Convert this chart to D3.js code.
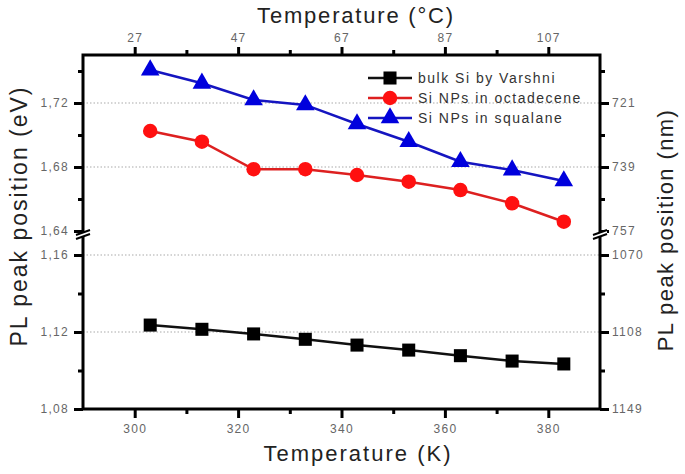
<!DOCTYPE html>
<html>
<head>
<meta charset="utf-8">
<script src="https://cdn.jsdelivr.net/npm/d3@7"></script>
<style>
  body { margin: 0; background: #fff; }
  text { font-family: Arial, "Liberation Sans", sans-serif; }
</style>
</head>
<body>
<svg width="685" height="474"></svg>
<script>
const temps = [303, 313, 323, 333, 343, 353, 363, 373, 383]
const bulkSi = [1.1236, 1.1214, 1.119, 1.1162, 1.1132, 1.1106, 1.1077, 1.1049, 1.1034]
const octadecene = [1.7025, 1.6958, 1.6786, 1.6786, 1.675, 1.6708, 1.6656, 1.6573, 1.6458]
const squalane = [1.7406, 1.7323, 1.7219, 1.7188, 1.7069, 1.6958, 1.6833, 1.6781, 1.6713]

const xTicks = [300, 320, 340, 360, 380]
const xMinor = [310, 330, 350, 370]
const cTicks = [27, 47, 67, 87, 107]
const cMinor = [37, 57, 77, 97]
const upTicks = [1.64, 1.68, 1.72]
const upMinor = [1.66, 1.70, 1.74]
const lowTicks = [1.08, 1.12, 1.16]
const lowMinor = [1.10, 1.14]
const nmUp = ['757', '739', '721']
const nmLow = ['1149', '1108', '1070']
const seriesNames = ['bulk Si by Varshni', 'Si NPs in octadecene', 'Si NPs in squalane']

const m = { left: 83, right: 600, top: 55, bottom: 409 }
const svg = d3.select('svg')

const x = d3.scaleLinear().domain([290, 390]).range([m.left, m.right])
const xC = d3.scaleLinear().domain([290 - 273, 390 - 273]).range([m.left, m.right])
const yUp = d3.scaleLinear().domain([1.64, 1.75]).range([231, m.top])
const yLow = d3.scaleLinear().domain([1.08, 1.16]).range([m.bottom, 255])

const comma = d => d3.format('.2f')(d).replace('.', ',')

/** grid lines */
const grid = svg.append('g')
;[[yUp, [1.68, 1.72]], [yLow, [1.12, 1.16]]].forEach(([s, vals]) => {
  vals.forEach(v => {
    grid.append('line')
      .attr('x1', m.left).attr('x2', m.right)
      .attr('y1', s(v)).attr('y2', s(v))
      .attr('stroke', '#aaa').attr('stroke-width', 1.2)
      .attr('stroke-dasharray', '1.5,2')
  })
})

/** axes */
const styleAxis = (g, labels) => {
  g.select('.domain').remove()
  g.selectAll('.tick line').attr('stroke', '#000').attr('stroke-width', 3)
  g.selectAll('.tick text')
    .attr('fill', '#666')
    .style('font-size', '12px')
    .style('letter-spacing', '1.3px')
  if (!labels) g.selectAll('.tick text').remove()
}

const addAxis = (gen, tx, ty, labels) => {
  svg.append('g').attr('transform', `translate(${tx},${ty})`).call(gen).call(g => styleAxis(g, labels))
}

addAxis(d3.axisBottom(x).tickValues(xTicks).tickSize(9).tickPadding(6), 0, m.bottom, true)
addAxis(d3.axisBottom(x).tickValues(xMinor).tickSize(5).tickFormat(''), 0, m.bottom, false)
addAxis(d3.axisTop(xC).tickValues(cTicks).tickSize(8).tickPadding(5), 0, m.top, true)
addAxis(d3.axisTop(xC).tickValues(cMinor).tickSize(5).tickFormat(''), 0, m.top, false)

addAxis(d3.axisLeft(yUp).tickValues(upTicks).tickSize(9).tickPadding(5).tickFormat(comma), m.left, 0, true)
addAxis(d3.axisLeft(yUp).tickValues(upMinor).tickSize(5).tickFormat(''), m.left, 0, false)
addAxis(d3.axisLeft(yLow).tickValues(lowTicks).tickSize(9).tickPadding(5).tickFormat(comma), m.left, 0, true)
addAxis(d3.axisLeft(yLow).tickValues(lowMinor).tickSize(5).tickFormat(''), m.left, 0, false)

addAxis(d3.axisRight(yUp).tickValues(upTicks).tickSize(9).tickPadding(3).tickFormat((d, i) => nmUp[i]), m.right, 0, true)
addAxis(d3.axisRight(yUp).tickValues(upMinor).tickSize(5).tickFormat(''), m.right, 0, false)
addAxis(d3.axisRight(yLow).tickValues(lowTicks).tickSize(9).tickPadding(3).tickFormat((d, i) => nmLow[i]), m.right, 0, true)
addAxis(d3.axisRight(yLow).tickValues(lowMinor).tickSize(5).tickFormat(''), m.right, 0, false)

/** frame */
svg.append('rect')
  .attr('x', m.left).attr('y', m.top)
  .attr('width', m.right - m.left).attr('height', m.bottom - m.top)
  .attr('fill', 'none').attr('stroke', '#000').attr('stroke-width', 3)

/** axis breaks */
;[m.left, m.right].forEach(ax => {
  const b = svg.append('g').attr('transform', `translate(${ax},235)`)
  b.append('polygon').attr('points', '-7,0 7,-5 7,-1 -7,4').attr('fill', '#fff')
  b.append('line').attr('x1', -7).attr('y1', 0).attr('x2', 7).attr('y2', -5)
    .attr('stroke', '#000').attr('stroke-width', 2)
  b.append('line').attr('x1', -7).attr('y1', 4).attr('x2', 7).attr('y2', -1)
    .attr('stroke', '#000').attr('stroke-width', 2)
})

/** series */
const series = [
  { name: seriesNames[0], vals: bulkSi, y: yLow, color: '#000', line: '#111', sym: d3.symbolSquare, size: 170 },
  { name: seriesNames[1], vals: octadecene, y: yUp, color: '#ff1010', line: '#dd2020', sym: d3.symbolCircle, size: 165 },
  { name: seriesNames[2], vals: squalane, y: yUp, color: '#0000dd', line: '#1515c0', sym: d3.symbolTriangle, size: 150 }
]

series.forEach(s => {
  const pts = temps.map((t, i) => [t, s.vals[i]])
  svg.append('path')
    .datum(pts)
    .attr('d', d3.line().x(d => x(d[0])).y(d => s.y(d[1])))
    .attr('fill', 'none').attr('stroke', s.line).attr('stroke-width', 2.5)
  svg.append('g').selectAll('path')
    .data(pts)
    .enter()
    .append('path')
    .attr('d', d3.symbol().type(s.sym).size(s.size))
    .attr('transform', d => `translate(${x(d[0])},${s.y(d[1])})`)
    .attr('fill', s.color)
})

/** legend */
const legend = svg.append('g').attr('transform', 'translate(368,78)')
series.forEach((s, i) => {
  const g = legend.append('g').attr('transform', `translate(0,${i * 20})`)
  g.append('line').attr('x1', 0).attr('x2', 44).attr('stroke', s.line).attr('stroke-width', 2.5)
  g.append('path').attr('d', d3.symbol().type(s.sym).size(s.size)).attr('transform', 'translate(22,0)').attr('fill', s.color)
  g.append('text').attr('x', 50).attr('dy', '0.36em')
    .attr('fill', '#333').style('font-size', '14px').style('letter-spacing', '1.5px')
    .text(s.name)
})

/** axis titles */
svg.append('text').attr('x', 358).attr('y', 461).attr('text-anchor', 'middle')
  .style('font-size', '22px').style('letter-spacing', '2px').attr('fill', '#222').text('Temperature (K)')
svg.append('text').attr('x', 356).attr('y', 23).attr('text-anchor', 'middle')
  .style('font-size', '22px').style('letter-spacing', '1.8px').attr('fill', '#222').text('Temperature (°C)')
svg.append('text').attr('transform', 'translate(27,216) rotate(-90)').attr('text-anchor', 'middle')
  .style('font-size', '23px').style('letter-spacing', '2px').attr('fill', '#222').text('PL peak position (eV)')
svg.append('text').attr('transform', 'translate(673,230) rotate(-90)').attr('text-anchor', 'middle')
  .style('font-size', '22px').style('letter-spacing', '1.4px').attr('fill', '#222').text('PL peak position (nm)')
</script>
</body>
</html>
